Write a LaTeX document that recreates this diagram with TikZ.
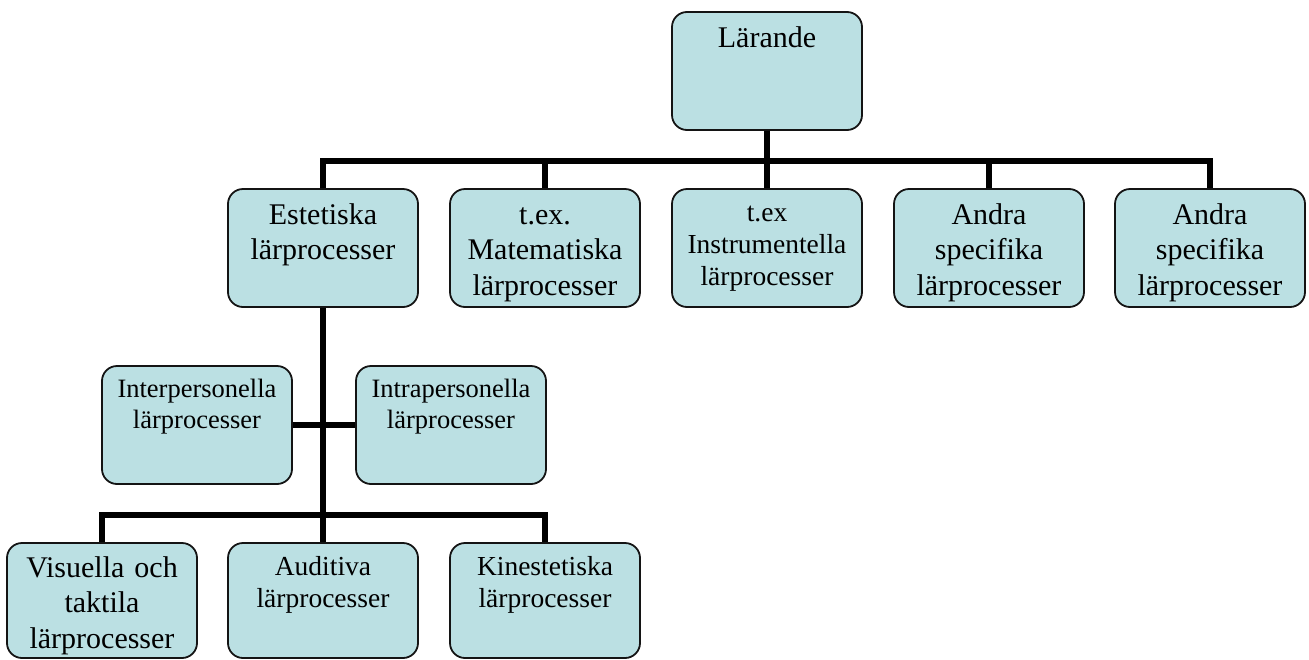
\documentclass[tikz,border=0pt]{standalone}
\usepackage{fontspec}
\setmainfont{Liberation Serif}
\definecolor{boxfill}{RGB}{187,224,227}
\definecolor{boxline}{RGB}{20,20,20}
\tikzset{
  box/.style={draw=boxline, line width=1.8pt, fill=boxfill, rounded corners=15pt,
    minimum width=190pt, minimum height=118pt, inner sep=0pt},
  lowbox/.style={box, minimum height=115pt},
  conn/.style={draw=black, line width=6pt, line join=miter},
  big/.style={font=\fontsize{30}{35.5}\selectfont, text width=188pt, align=center, inner sep=0pt, anchor=base},
  small/.style={font=\fontsize{27.5}{32.3}\selectfont, text width=188pt, align=center, inner sep=0pt, anchor=base},
  smaller/.style={font=\fontsize{26.5}{31}\selectfont, text width=188pt, align=center, inner sep=0pt, anchor=base}
}
\begin{document}
\begin{tikzpicture}[x=1pt,y=-1pt]
\useasboundingbox (0,0) rectangle (1309,659);
% boxes
\node[box] (lar) at (767,71) {};
\node[box] (est) at (323,248) {};
\node[box] (mat) at (545,248) {};
\node[box] (ins) at (767,248) {};
\node[box] (and1) at (989,248) {};
\node[box] (and2) at (1210,248) {};
\node[box] (inter) at (197,425) {};
\node[box] (intra) at (451,425) {};
\node[lowbox] (vis) at (102,600.5) {};
\node[lowbox] (aud) at (323,600.5) {};
\node[lowbox] (kin) at (545,600.5) {};
% connectors
\coordinate (bus) at (767,161);
\coordinate (lowbus) at (323,515);
\draw[conn] (lar.south) -- (bus);
\draw[conn] (est.north) |- (bus) -| (and2.north);
\draw[conn] (mat.north) -- (mat.north |- bus);
\draw[conn] (ins.north) -- (bus);
\draw[conn] (and1.north) -- (and1.north |- bus);
\draw[conn] (est.south) -- (aud.north);
\draw[conn] (inter.east) -- (intra.west);
\draw[conn] (vis.north) |- (lowbus) -| (kin.north);
% texts
\node[big] (tlar) at (767,47) {Lärande};
\node[big] (test) at (323,224) {Estetiska\\lärprocesser};
\node[big] (tmat) at (545,224) {t.ex.\\Matematiska\\lärprocesser};
\node[small] (tins) at (767,221) {t.ex\\Instrumentella\\lärprocesser};
\node[big] (tand1) at (989,224) {Andra\\specifika\\lärprocesser};
\node[big] (tand2) at (1210,224) {Andra\\specifika\\lärprocesser};
\node[smaller] (tinter) at (197,397) {Interpersonella\\lärprocesser};
\node[smaller] (tintra) at (451,397) {Intrapersonella\\lärprocesser};
\node[big] (tvis) at (102,577) {Visuella och\\taktila\\lärprocesser};
\node[small] (taud) at (323,575) {Auditiva\\lärprocesser};
\node[small] (tkin) at (545,575) {Kinestetiska\\lärprocesser};
\end{tikzpicture}
\end{document}
